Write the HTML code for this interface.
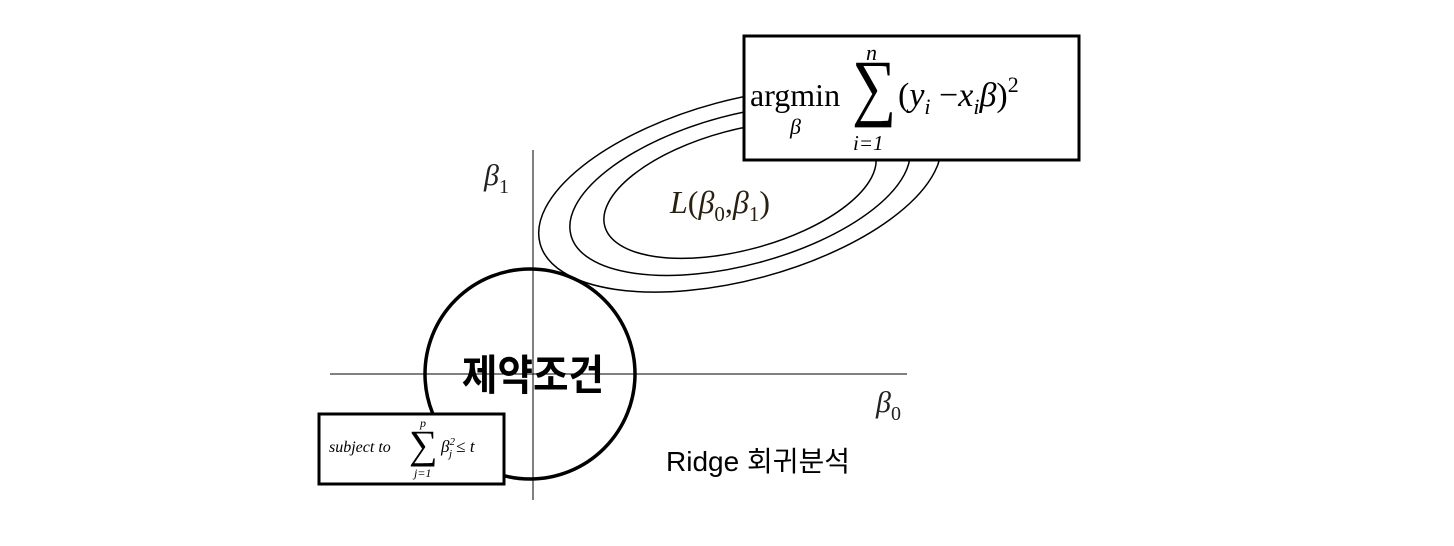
<!DOCTYPE html>
<html><head><meta charset="utf-8"><style>
body{margin:0;background:#fff;}
svg{display:block;}
.s{font-family:"Liberation Serif","DejaVu Serif",serif;}
.k{font-family:"Liberation Sans","Noto Sans CJK KR",sans-serif;}
</style></head><body>
<svg width="1454" height="546" viewBox="0 0 1454 546">
<line x1="533" y1="150" x2="533" y2="500" stroke="#000" stroke-width="1"/>
<line x1="330" y1="374" x2="907" y2="374" stroke="#000" stroke-width="1"/>
<g fill="none" stroke="#000" stroke-width="1.5" transform="rotate(-15 740 190)">
<ellipse cx="740" cy="190" rx="207" ry="90"/>
<ellipse cx="740" cy="190" rx="175" ry="75"/>
<ellipse cx="740" cy="190" rx="140" ry="60"/>
</g>
<circle cx="530" cy="374" r="105" fill="none" stroke="#000" stroke-width="3.5"/>
<rect x="744" y="36" width="335" height="124" fill="#fff" stroke="#000" stroke-width="3"/>
<g class="s" fill="#000">
<text x="750" y="106" font-size="32">argmin</text>
<text x="790" y="134" font-size="22" font-style="italic">β</text>
<text x="0" y="93" font-size="62" transform="translate(852 0) scale(1 1.2)">∑</text>
<text x="866" y="60" font-size="22" font-style="italic">n</text>
<text x="853" y="150" font-size="21" font-style="italic">i=1</text>
<text x="898" y="106" font-size="34">(<tspan font-style="italic">y</tspan><tspan font-size="22" font-style="italic" dy="8">i</tspan><tspan dy="-8"> −</tspan><tspan font-style="italic">x</tspan><tspan font-size="22" font-style="italic" dy="8">i</tspan><tspan dy="-8" font-style="italic">β</tspan>)<tspan font-size="22" dy="-14">2</tspan></text>
</g>
<rect x="319" y="414" width="185" height="70" fill="#fff" stroke="#000" stroke-width="3"/>
<g class="s" fill="#000" font-style="italic">
<text x="329" y="452" font-size="16">subject to</text>
<text x="409" y="458" font-size="40" font-style="normal">∑</text>
<text x="420" y="427" font-size="12">p</text>
<text x="414" y="477" font-size="12">j=1</text>
<text x="441" y="452" font-size="17">β<tspan font-size="11" dy="-7">2</tspan><tspan font-size="11" dx="-6" dy="12">j</tspan><tspan font-style="normal" dy="-5"> ≤ </tspan>t</text>
</g>
<text class="s" x="484" y="185" font-size="30" font-style="italic" fill="#222">β<tspan font-size="20" font-style="normal" dy="8">1</tspan></text>
<text class="s" x="876" y="412" font-size="30" font-style="italic" fill="#222">β<tspan font-size="20" font-style="normal" dy="8">0</tspan></text>
<text class="s" x="670" y="213" font-size="32" fill="#2a2010"><tspan font-style="italic">L</tspan>(<tspan font-style="italic">β</tspan><tspan font-size="21" dy="8">0</tspan><tspan dy="-8">,</tspan><tspan font-style="italic">β</tspan><tspan font-size="21" dy="8">1</tspan><tspan dy="-8">)</tspan></text>
<text class="k" x="533" y="390" font-size="42" font-weight="bold" text-anchor="middle" fill="#000" transform="translate(533 0) scale(0.92 1) translate(-533 0)">제약조건</text>
<text class="k" x="666" y="471" font-size="28" fill="#000">Ridge 회귀분석</text>
</svg>
</body></html>
